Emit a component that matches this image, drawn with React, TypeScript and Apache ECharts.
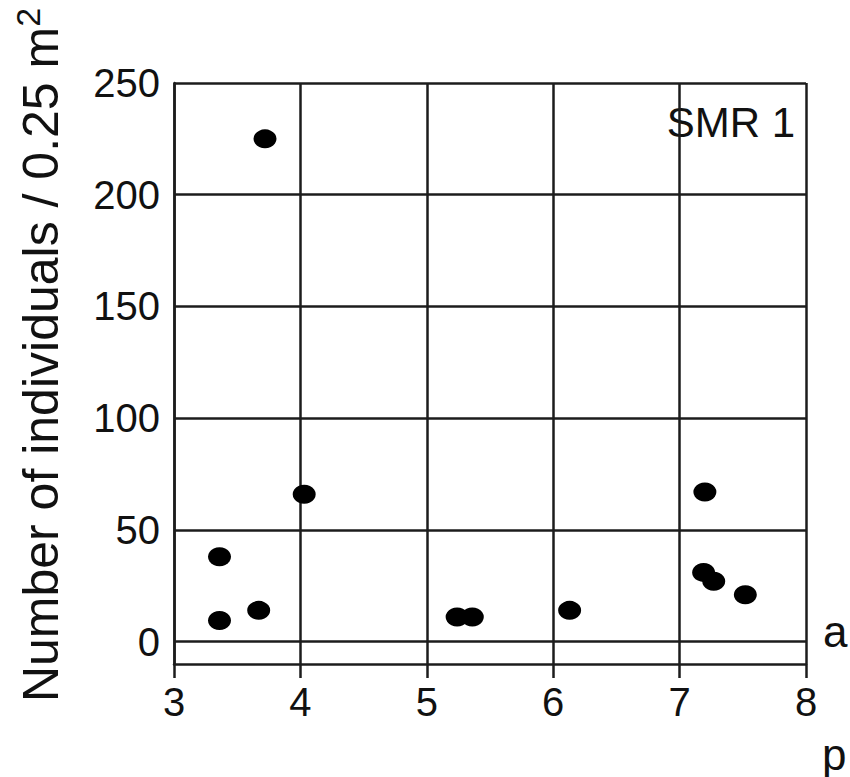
import React, { useEffect, useRef } from "react";
import * as echarts from "echarts";

const xValues = [3.72, 3.36, 3.36, 3.67, 4.03, 5.24, 5.36, 6.13, 7.2, 7.19, 7.27, 7.52];
const yValues = [225, 38, 9.5, 14, 66, 11, 11, 14, 67, 31, 27, 21];
const yTicks = [0, 50, 100, 150, 200, 250];
const xMin = 3;
const xMax = 8;
const yMin = -10;
const yMax = 250;
const panelLabel = "SMR 1";
const yTitle = "Number of individuals / 0.25 m";
const ySup = "2";

const FONT = "'Liberation Sans', Arial, Helvetica, sans-serif";
const LINE = "#1c1c1c";

export default function App() {
  const ref = useRef<HTMLDivElement>(null);
  useEffect(() => {
    if (!ref.current) return;
    const chart = echarts.init(ref.current, null, { renderer: "svg" });
    const points = xValues.map((x, i) => [x, yValues[i]]);
    chart.setOption({
      animation: false,
      backgroundColor: "#ffffff",
      grid: { left: 174, right: 44, top: 83, bottom: 113, containLabel: false },
      xAxis: {
        type: "value",
        min: xMin,
        max: xMax,
        interval: 1,
        axisLine: { show: true, onZero: false, lineStyle: { color: LINE, width: 2.5 } },
        axisTick: { show: true, inside: false, length: 14, lineStyle: { color: LINE, width: 2.5 } },
        axisLabel: { margin: 18, fontSize: 40, color: "#111", fontFamily: FONT, showMinLabel: true, showMaxLabel: true },
        splitLine: { show: true, lineStyle: { color: LINE, width: 2.5 } },
      },
      yAxis: {
        type: "value",
        min: yMin,
        max: yMax,
        axisLine: { show: true, onZero: false, lineStyle: { color: LINE, width: 2.5 } },
        axisTick: { show: false, customValues: yTicks },
        axisLabel: { margin: 14, fontSize: 40, color: "#111", fontFamily: FONT, customValues: yTicks, padding: [0, 0, 6, 0] },
        splitLine: { show: true, lineStyle: { color: LINE, width: 2.5 } },
      },
      series: [
        {
          type: "scatter",
          data: points,
          symbol: "circle",
          symbolSize: [23, 19],
          itemStyle: { color: "#000", opacity: 1 },
        },
      ],
      graphic: [
        {
          type: "text",
          right: 55,
          top: 101,
          style: { text: panelLabel, font: `42px ${FONT}`, fill: "#111" },
        },
        {
          type: "text",
          x: 41,
          y: 355,
          rotation: Math.PI / 2,
          style: {
            text: `${yTitle}{sup|${ySup}}`,
            font: `50px ${FONT}`,
            fill: "#111",
            align: "center",
            verticalAlign: "middle",
            rich: {
              sup: { fontSize: 34, fontFamily: FONT, verticalAlign: "top", lineHeight: 60, padding: [0, 0, 18, 0] },
            },
          },
        },
        {
          type: "text",
          x: 823,
          y: 653,
          style: { text: "a", font: `44px ${FONT}`, fill: "#111", verticalAlign: "bottom" },
        },
        {
          type: "text",
          x: 822,
          y: 776,
          style: { text: "p", font: `44px ${FONT}`, fill: "#111", verticalAlign: "bottom" },
        },
      ],
    });
    return () => chart.dispose();
  }, []);
  return <div ref={ref} style={{ width: 850, height: 777, position: "absolute", left: 0, top: 0 }} />;
}
